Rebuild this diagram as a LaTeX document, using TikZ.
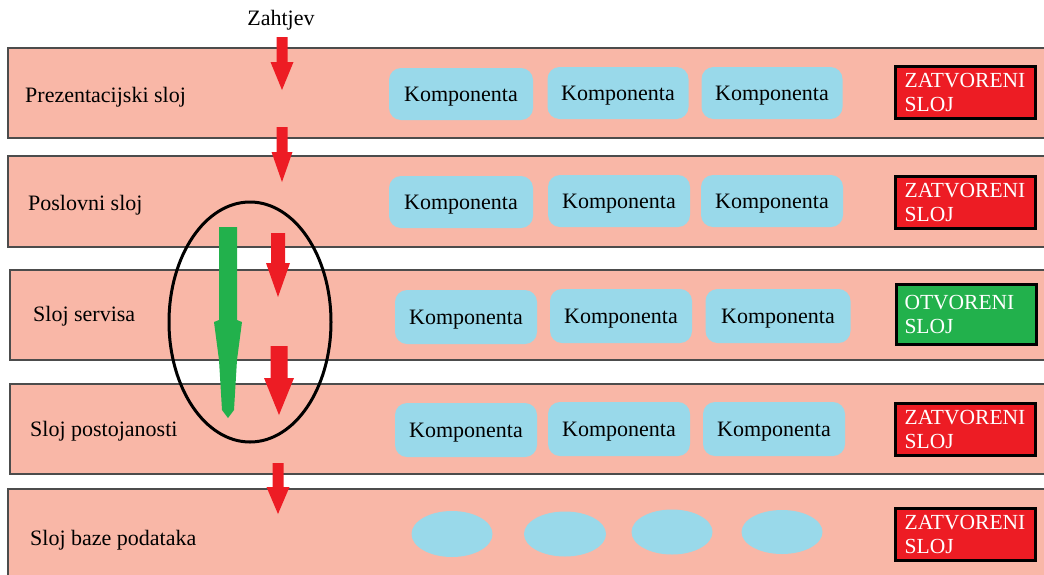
\documentclass[tikz,border=0pt]{standalone}
\usepackage{fontspec}
\setmainfont{Liberation Serif}
\usetikzlibrary{shapes.geometric}
\definecolor{bandfill}{HTML}{F9B7A7}
\definecolor{compfill}{HTML}{99D9EA}
\definecolor{zred}{HTML}{ED1C24}
\definecolor{zgreen}{HTML}{22B14C}
\newcommand\myblockarrow[7]{% x, ytop, yhead, ytip, shaft, head, colour
  \fill[#7] ({#1-#5/2},#2) -- ({#1+#5/2},#2) -- ({#1+#5/2},#3) -- ({#1+#6/2},#3)
    -- (#1,#4) -- ({#1-#6/2},#3) -- ({#1-#5/2},#3) -- cycle;}
\begin{document}
\begin{tikzpicture}[x=1pt,y=-1pt,
  every node/.style={font=\fontsize{22}{24}\selectfont},
  layer/.style={draw=black!70, line width=1.3pt, fill=bandfill},
  layerlabel/.style={anchor=west, inner sep=0pt, text=black},
  compbox/.style 2 args={fill=compfill, rounded corners=12pt, minimum width=#1pt, minimum height=#2pt, inner sep=0pt, text depth=0pt},
  dbcomp/.style 2 args={fill=compfill, ellipse, minimum width=#1pt, minimum height=#2pt, inner sep=0pt},
  statebox/.style 2 args={draw=black, line width=3pt, fill=#1, text=white, align=left, minimum width=140pt, minimum height=#2pt, inner sep=2pt, font=\fontsize{21.5}{24}\selectfont},
]
\useasboundingbox (0,0) rectangle (1044,574);
\clip (0,0) rectangle (1044,574);

% layers
\draw[layer] (8,48) rectangle (1060,138);
\draw[layer] (8,156) rectangle (1060,247);
\draw[layer] (10,270) rectangle (1060,360);
\draw[layer] (10,384) rectangle (1060,474);
\draw[layer] (8,489) rectangle (1060,590);

% layer labels
\node[layerlabel] (l1) at (25,97) {Prezentacijski sloj};
\node[layerlabel] (l2) at (28,205) {Poslovni sloj};
\node[layerlabel] (l3) at (33,316) {Sloj servisa};
\node[layerlabel] (l4) at (30,431) {Sloj postojanosti};
\node[layerlabel] (l5) at (30,540) {Sloj baze podataka};

\node[inner sep=0pt] (req) at (281,20) {Zahtjev};

% components
\node[compbox={144}{52}] (c11) at (461,94) {Komponenta};
\node[compbox={141}{52}] (c12) at (618,93) {Komponenta};
\node[compbox={141}{52}] (c13) at (772,93) {Komponenta};
\node[compbox={144}{52}] (c21) at (461,202) {Komponenta};
\node[compbox={142}{52}] (c22) at (619,201) {Komponenta};
\node[compbox={142}{52}] (c23) at (772,201) {Komponenta};
\node[compbox={142}{54}] (c31) at (466,317) {Komponenta};
\node[compbox={142}{54}] (c32) at (621,316) {Komponenta};
\node[compbox={145}{54}] (c33) at (778,316) {Komponenta};
\node[compbox={142}{54}] (c41) at (466,430) {Komponenta};
\node[compbox={142}{54}] (c42) at (619,429) {Komponenta};
\node[compbox={142}{54}] (c43) at (774,429) {Komponenta};
\node[dbcomp={81}{46}] (d1) at (452,534) {};
\node[dbcomp={82}{45}] (d2) at (565,534) {};
\node[dbcomp={81}{45}] (d3) at (672,532) {};
\node[dbcomp={81}{44}] (d4) at (782,532) {};

% state boxes
\node[statebox={zred}{52}] (s1) at (965,92) {ZATVORENI\\SLOJ};
\node[statebox={zred}{52}] (s2) at (965,202) {ZATVORENI\\SLOJ};
\node[statebox={zgreen}{60}] (s3) at (966,314) {OTVORENI\hphantom{Z}\\SLOJ};
\node[statebox={zred}{52}] (s4) at (965,429) {ZATVORENI\\SLOJ};
\node[statebox={zred}{52}] (s5) at (965,534) {ZATVORENI\\SLOJ};

% red request arrows
\myblockarrow{282}{37}{62}{90}{11}{23}{zred}
\myblockarrow{282}{127}{152}{182}{11}{21}{zred}
\myblockarrow{278}{233}{263}{297}{14}{24}{zred}
\myblockarrow{279}{346}{378}{415}{17}{30}{zred}
\myblockarrow{278}{463}{487}{514}{11}{23}{zred}

% green bypass arrow
\fill[zgreen] (219,227) -- (237,227) -- (237,320) -- (242,322) -- (237,360)
  -- (234,410) -- (228,418) -- (222,410) -- (219,360) -- (214,322) -- (219,320) -- cycle;

% ellipse
\draw[black, line width=3pt] (250,322) ellipse [x radius=81, y radius=120];
\end{tikzpicture}
\end{document}
